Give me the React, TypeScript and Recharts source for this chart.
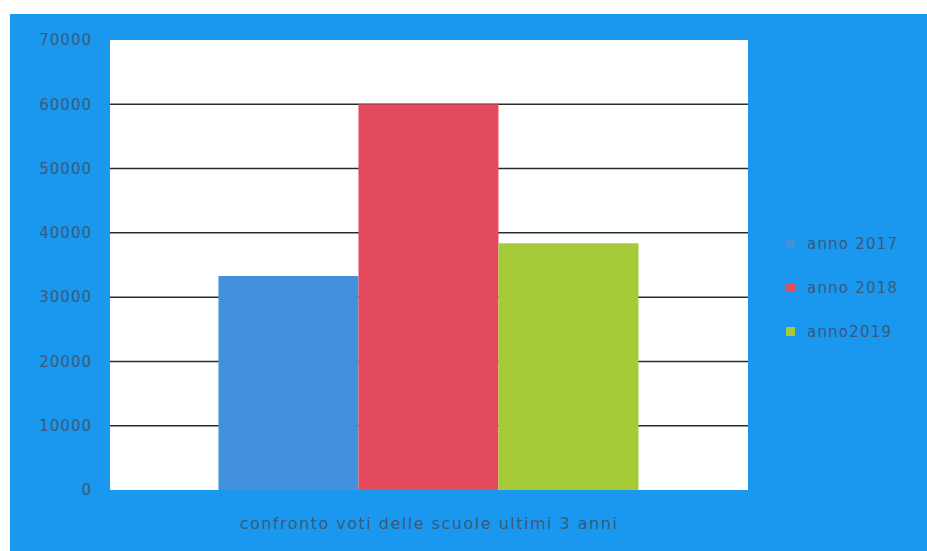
import React from 'react';
import { BarChart, Bar, XAxis, YAxis, CartesianGrid, Legend } from 'recharts';

const categories = ['confronto voti delle scuole ultimi 3 anni'];
const anno2017 = [33300];
const anno2018 = [60000];
const anno2019 = [38400];
const yTicks = [0, 10000, 20000, 30000, 40000, 50000, 60000, 70000];
const seriesNames = ['anno 2017', 'anno 2018', 'anno2019'];
const seriesColors = ['#4191DE', '#E44A5D', '#A5CB38'];

const data = categories.map((c, i) => ({
  name: c,
  a2017: anno2017[i],
  a2018: anno2018[i],
  a2019: anno2019[i],
}));

const FONT = 'DejaVu Sans, Verdana, sans-serif';
const TEXT = '#3d5a78';
const Y_MAX = yTicks[yTicks.length - 1];

const LegendContent = () => (
  <div style={{ width: 140, boxSizing: 'border-box', paddingLeft: 38, paddingTop: 10, fontFamily: FONT, fontSize: 15, color: TEXT, whiteSpace: 'nowrap' }}>
    {seriesNames.map((n, i) => (
      <div key={n} style={{ display: 'flex', alignItems: 'center', height: 44 }}>
        <span style={{ display: 'inline-block', width: 9, height: 9, flex: '0 0 9px', background: seriesColors[i], marginRight: 12 }} />
        <span style={{ letterSpacing: 1.2, whiteSpace: 'nowrap' }}>{n}</span>
      </div>
    ))}
  </div>
);

const gridGen = (props: any) => {
  const off = props.offset || {};
  const top = off.top ?? 0;
  const h = off.height ?? 0;
  return yTicks.slice(1, yTicks.length - 1).map((t) => top + h * (1 - t / Y_MAX));
};

export default function App() {
  return (
    <div style={{ position: 'absolute', left: 0, top: 0, width: 927, height: 551, background: '#ffffff' }}>
      <div style={{ position: 'absolute', left: 10, top: 14, width: 917, height: 537, background: '#1A97EE' }}>
        <BarChart
          width={917}
          height={537}
          data={data}
          margin={{ top: 26, right: 39, left: 20, bottom: 21 }}
          barCategoryGap="17%"
          barGap={0}
        >
          <CartesianGrid
            vertical={false}
            stroke="#2b2b2b"
            strokeWidth={1.5}
            fill="#ffffff"
            horizontalCoordinatesGenerator={gridGen}
          />
          <XAxis
            dataKey="name"
            axisLine={false}
            tickLine={false}
            tickMargin={22}
            height={40}
            tick={{ fill: TEXT, fontSize: 16, fontFamily: FONT, letterSpacing: 1.5 }}
          />
          <YAxis
            width={80}
            domain={[0, Y_MAX]}
            ticks={yTicks}
            axisLine={false}
            tickLine={false}
            tickMargin={12}
            tick={{ fill: TEXT, fontSize: 15, fontFamily: FONT, letterSpacing: 1 }}
          />
          <Legend
            layout="vertical"
            align="right"
            verticalAlign="middle"
            wrapperStyle={{ width: 140 }}
            content={<LegendContent />}
          />
          <Bar dataKey="a2017" name={seriesNames[0]} fill={seriesColors[0]} isAnimationActive={false} />
          <Bar dataKey="a2018" name={seriesNames[1]} fill={seriesColors[1]} isAnimationActive={false} />
          <Bar dataKey="a2019" name={seriesNames[2]} fill={seriesColors[2]} isAnimationActive={false} />
        </BarChart>
      </div>
    </div>
  );
}
